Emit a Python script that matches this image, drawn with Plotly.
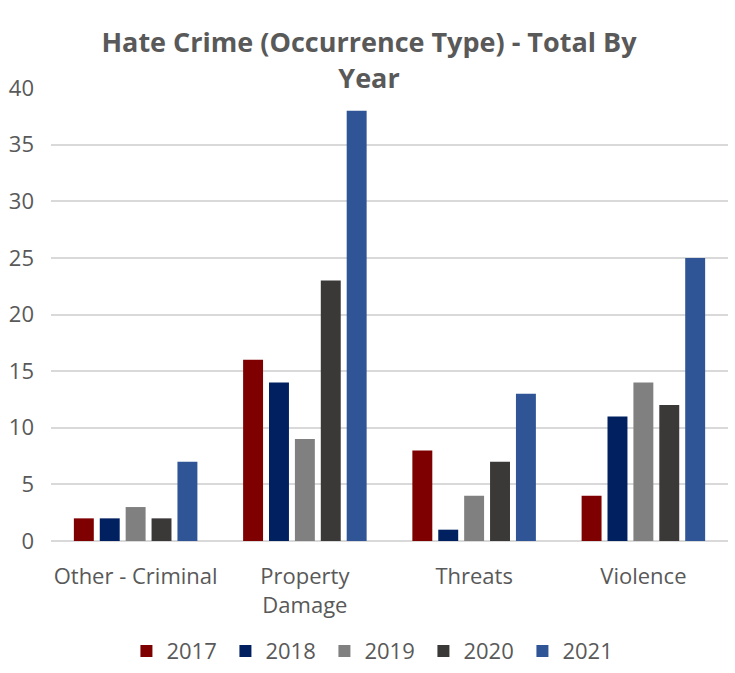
import plotly.graph_objects as go

categories = ["Other - Criminal", "Property<br>Damage", "Threats", "Violence"]
years = ["2017", "2018", "2019", "2020", "2021"]
v2017 = [2, 16, 8, 4]
v2018 = [2, 14, 1, 11]
v2019 = [3, 9, 4, 14]
v2020 = [2, 23, 7, 12]
v2021 = [7, 38, 13, 25]
series = [v2017, v2018, v2019, v2020, v2021]
colors = ["#7F0000", "#002060", "#808080", "#3B3838", "#2F5597"]
yticks = [0, 5, 10, 15, 20, 25, 30, 35, 40]

fig = go.Figure()
for name, vals, col in zip(years, series, colors):
    fig.add_trace(go.Bar(x=categories, y=vals, name=name, marker=dict(color=col, line=dict(width=0))))

font_main = "Open Sans, Segoe UI, sans-serif"
fig.update_layout(
    width=735, height=673,
    margin=dict(l=51, r=7, t=88, b=132, autoexpand=False),
    paper_bgcolor="white", plot_bgcolor="white",
    barmode="group", bargap=0.235, bargroupgap=0.23,
    title=dict(text="<b>Hate Crime (Occurrence Type) - Total By<br>Year</b>",
               x=0.502, xanchor="center", y=0.922, yanchor="top",
               font=dict(family=font_main, size=27, color="#595959")),
    font=dict(family=font_main, size=21, color="#595959"),
    showlegend=True,
    legend=dict(orientation="h", x=0.477, xanchor="center", y=-0.243, yanchor="middle",
                font=dict(size=22, color="#595959"), entrywidth=54, traceorder="normal",
                itemwidth=30),
    xaxis=dict(showgrid=False, showline=False, ticks="", ticklabelstandoff=20,
               tickfont=dict(size=22, color="#595959")),
    yaxis=dict(range=[0, 40], tickvals=yticks, showgrid=True, gridcolor="#D9D9D9", gridwidth=1.5,
               zeroline=True, zerolinecolor="#D9D9D9", zerolinewidth=1.5, showline=False,
               ticks="", ticklabelstandoff=16, tickfont=dict(size=22, color="#595959")),
)
fig.write_html("out.html")
